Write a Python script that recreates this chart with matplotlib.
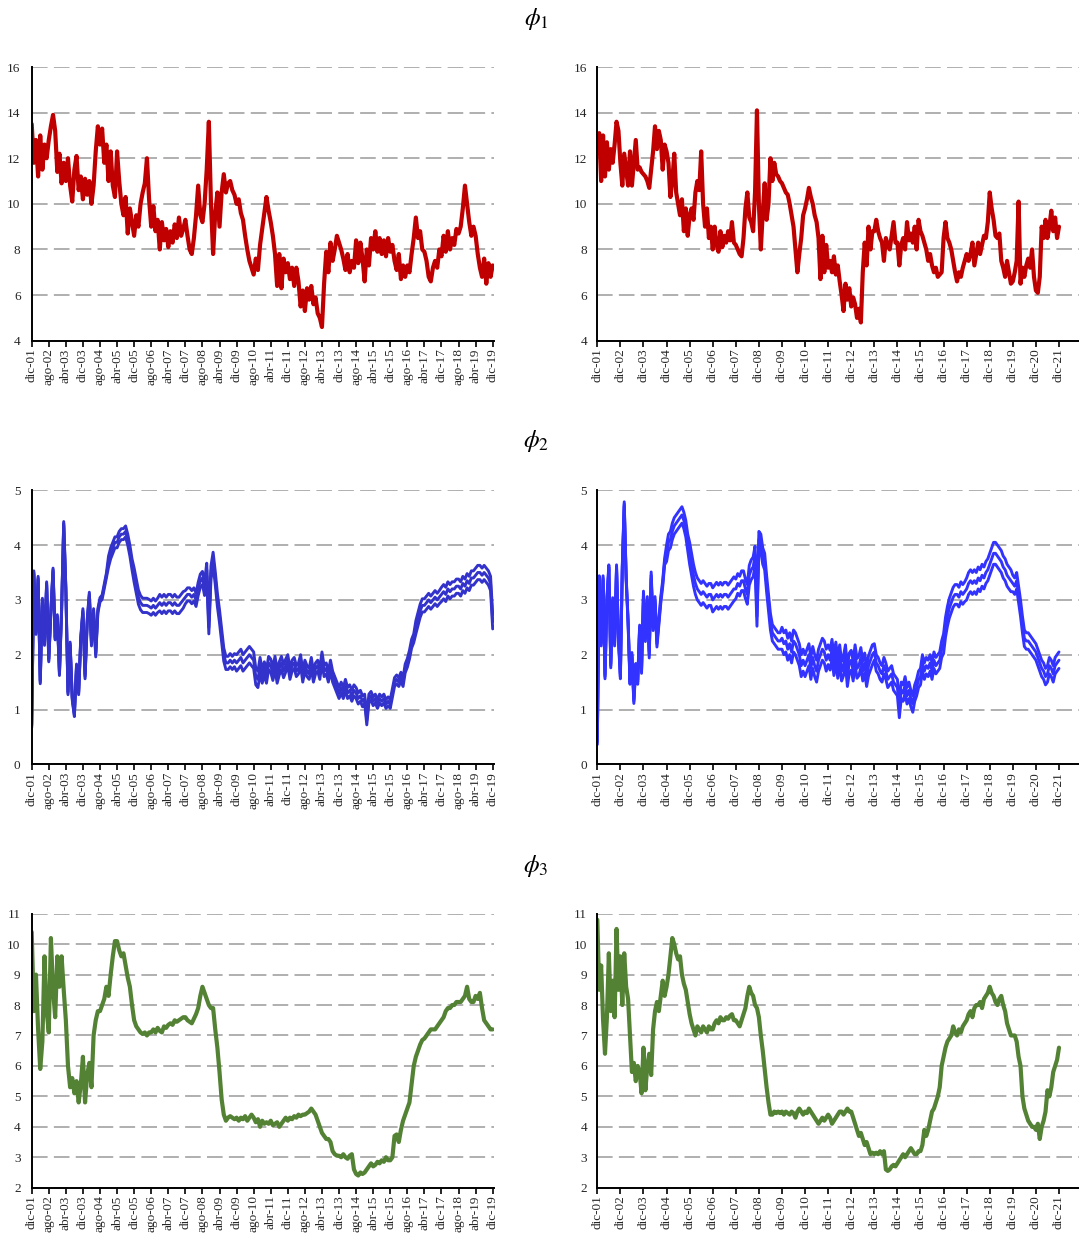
import numpy as np
import matplotlib
matplotlib.use("Agg")
import matplotlib.pyplot as plt

plt.rcParams["font.family"] = ["Liberation Serif", "DejaVu Serif"]
plt.rcParams["mathtext.fontset"] = "stix"

# ---------------------------------------------------------------------------
# Monthly readings, month 0 = dic-01
# ---------------------------------------------------------------------------
phi1_short = [
    13.5, 11.8, 12.8, 11.2, 13.0, 11.5, 12.6, 12.0,
    12.8, 13.4, 13.9, 13.2, 11.4, 12.2, 10.9, 11.8,
    11.0, 12.0, 10.8, 10.1, 11.5, 12.1, 10.6, 11.2,
    10.2, 11.1, 10.4, 11.0, 10.0, 10.8, 12.3, 13.4,
    12.6, 13.3, 11.8, 12.6, 11.0, 12.3, 10.8, 10.3,
    12.3, 11.0, 10.0, 9.5, 10.3, 8.7, 9.8, 9.2,
    8.6, 9.5, 9.0, 10.0, 10.5, 10.9, 12.0, 10.2,
    9.0, 9.9, 8.8, 9.3, 8.0, 9.2, 8.4, 8.9,
    8.1, 8.8, 8.3, 9.1, 8.5, 9.4, 8.6, 8.9,
    9.3, 8.6, 8.0, 7.8, 8.5, 9.5, 10.8, 9.5,
    9.2, 10.0, 11.5, 13.6, 10.0, 7.8, 9.6, 10.5,
    9.0, 10.5, 11.3, 10.5, 10.9, 11.0, 10.6, 10.4,
    10.0, 10.2, 9.6, 9.3, 8.6, 8.0, 7.5, 7.2,
    6.9, 7.6, 7.1, 8.2, 8.9, 9.6, 10.3, 9.7,
    9.2, 8.6, 7.8, 6.4, 7.8, 6.3, 7.6, 7.0,
    7.4, 6.7, 7.2, 6.4, 7.2, 6.6, 5.5, 6.2,
    5.3, 6.3, 5.8, 6.4, 5.6, 5.9, 5.2, 5.0,
    4.6, 6.5, 7.9, 7.0, 8.3, 7.5, 8.0, 8.6,
    8.3, 8.0, 7.6, 7.1, 7.8, 7.0, 7.5, 7.2,
    8.4, 7.4, 8.3, 7.6, 6.6, 8.0, 7.3, 8.5,
    8.0, 8.8, 7.9, 8.5, 7.8, 8.4, 7.7, 8.5,
    7.9, 8.2, 7.5, 7.1, 7.8, 6.7, 7.3, 6.8,
    7.3, 7.0, 7.8, 8.5, 9.4, 8.5, 8.8, 8.0,
    7.9, 7.5, 6.8, 6.6, 7.2, 7.5, 7.2, 8.0,
    7.7, 8.6, 7.9, 8.8, 8.0, 8.5, 8.2, 8.9,
    8.7, 9.0, 9.8, 10.8, 10.0, 9.2, 8.6, 9.0,
    8.6, 7.8, 7.2, 6.8, 7.6, 6.5, 7.4, 6.8,
    7.3,
]

phi1_long = [
    12.5, 13.1, 11.0, 13.0, 11.2, 12.7, 11.5, 12.4, 11.8, 12.6, 13.6, 13.2,
    11.8, 10.8, 12.2, 11.5, 10.8, 12.3, 10.8, 11.8, 12.8, 11.5, 11.6, 11.4,
    11.3, 11.2, 11.0, 10.7, 11.5, 12.3, 13.4, 12.4, 13.2, 12.8, 11.5, 12.6,
    12.3, 11.8, 10.3, 11.0, 12.2, 10.5, 10.0, 9.5, 10.2, 8.8, 9.8, 8.6,
    9.5, 9.8, 9.3, 10.5, 11.0, 10.6, 12.3, 10.0, 9.0, 9.8, 8.5, 9.0,
    8.0, 9.0, 8.2, 7.9, 8.8, 8.1, 8.6, 8.3, 8.8, 8.4, 9.2, 8.3,
    8.2, 8.0, 7.8, 7.7, 8.5, 9.8, 10.5, 9.4, 9.2, 8.8, 10.5, 14.1,
    10.0, 8.0, 9.6, 10.9, 9.3, 10.0, 12.0, 11.0, 11.8, 11.3, 11.2, 11.0,
    10.9, 10.7, 10.5, 10.4, 10.0, 9.5, 9.0, 8.0, 7.0, 7.8, 8.5, 9.5,
    9.8, 10.2, 10.7, 10.3, 10.0, 9.5, 9.2, 8.5, 6.7, 8.6, 7.0, 8.2,
    7.2, 7.5, 7.0, 7.7, 6.9, 7.3, 6.6, 6.0, 5.3, 6.5, 5.8, 6.3,
    5.5, 5.9, 5.6, 5.0, 5.4, 4.8, 7.0, 8.3, 7.3, 9.0, 8.0, 8.8,
    8.8, 9.3, 8.8, 8.5, 8.3, 7.5, 8.5, 8.2, 8.0, 8.6, 9.2, 8.3,
    8.3, 7.3, 8.2, 8.5, 8.0, 9.2, 8.4, 8.7, 8.3, 9.0, 8.0, 9.3,
    8.8, 8.6, 8.3, 8.0, 7.5, 7.8, 7.3, 7.0, 7.2, 6.8, 6.9, 7.0,
    8.5, 9.2, 8.5, 8.3, 8.0, 7.5, 7.0, 6.6, 7.0, 6.8, 7.2, 7.5,
    7.8, 7.5, 7.8, 8.3, 7.3, 7.8, 8.3, 7.8, 8.2, 8.6, 8.5, 9.2,
    10.5, 9.8, 9.3, 8.6, 8.5, 8.7, 7.5, 7.2, 6.8, 7.5, 7.0, 6.5,
    6.6, 7.0, 7.5, 10.1, 6.5, 7.2, 6.8, 7.3, 7.6, 7.2, 8.0, 6.8,
    6.2, 6.1, 6.8, 9.0, 8.5, 9.3, 8.5, 9.0, 9.7, 8.8, 9.4, 8.5,
    9.0,
]

phi2_short = [
    0.7, 3.5, 2.4, 3.4, 1.5, 3.0, 2.2, 3.3,
    1.9, 2.8, 3.55, 2.3, 2.7, 1.65, 2.8, 4.4,
    3.2, 1.3, 2.2, 1.2, 0.9, 1.8, 1.3, 2.3,
    2.8, 1.6, 2.6, 3.1, 2.2, 2.8, 2.0, 2.8,
    3.0, 3.05, 3.25, 3.45, 3.7, 3.85, 3.95, 4.05,
    4.05, 4.15, 4.2, 4.2, 4.25, 4.1, 3.9, 3.65,
    3.45, 3.25, 3.05, 2.95, 2.9, 2.9, 2.9, 2.88,
    2.85, 2.9, 2.85, 2.9, 2.95, 2.9, 2.95, 2.9,
    2.95, 2.95, 2.9, 2.95, 2.9, 2.9, 2.95, 3.0,
    3.05, 3.1, 3.1, 3.05, 3.1, 3.0, 3.2, 3.35,
    3.4, 3.2, 3.55, 2.5, 3.5, 3.75, 3.4, 3.0,
    2.7, 2.35, 2.0, 1.85, 1.85, 1.9, 1.85, 1.9,
    1.85, 1.9, 1.95, 1.85, 1.9, 1.95, 2.0, 1.95,
    1.9, 1.6, 1.55, 1.8, 1.6, 1.75, 1.6, 1.85,
    1.8, 1.65, 1.85, 1.6, 1.75, 1.85, 1.7, 1.8,
    1.9, 1.65, 1.8, 1.85, 1.7, 1.75, 1.9, 1.6,
    1.8, 1.7, 1.65, 1.85, 1.6, 1.75, 1.8, 1.65,
    1.95, 1.7, 1.75, 1.6, 1.8, 1.6, 1.5, 1.4,
    1.3, 1.4, 1.3, 1.45, 1.3, 1.35, 1.25, 1.35,
    1.3, 1.2, 1.25, 1.15, 1.2, 0.8, 1.2, 1.25,
    1.15, 1.2, 1.1, 1.2, 1.15, 1.2, 1.1, 1.15,
    1.1, 1.3, 1.5, 1.55, 1.5, 1.6, 1.5, 1.75,
    1.85, 2.0, 2.2, 2.3, 2.5, 2.65, 2.8, 2.9,
    2.9, 2.95, 3.0, 2.95, 3.0, 3.05, 3.0, 3.05,
    3.1, 3.15, 3.1, 3.2, 3.15, 3.2, 3.2, 3.25,
    3.25, 3.2, 3.3, 3.25, 3.35, 3.3, 3.4, 3.4,
    3.45, 3.5, 3.5, 3.45, 3.5, 3.45, 3.4, 3.3,
    2.6,
]
# half-distance between the three parallel phi2 curves, one value per year
phi2_short_gap = [0.03, 0.03, 0.04, 0.10, 0.13, 0.15, 0.12, 0.12, 0.15,
                  0.12, 0.10, 0.10, 0.10, 0.08, 0.08, 0.12, 0.13, 0.13, 0.13]

phi2_long = [
    0.4, 3.4, 2.2, 3.4, 1.6, 3.0, 3.6, 1.8, 3.0, 2.2, 3.6, 2.3,
    1.6, 3.6, 4.75, 3.4, 2.6, 1.5, 2.0, 1.15, 1.8, 1.5, 2.5, 1.7,
    3.1, 2.3, 3.0, 2.0, 3.45, 2.5, 3.0, 2.2, 2.6, 3.0, 3.3, 3.7,
    3.85, 4.05, 4.1, 4.25, 4.35, 4.4, 4.45, 4.5, 4.55, 4.45, 4.3, 4.05,
    3.85, 3.65, 3.45, 3.3, 3.2, 3.15, 3.1, 3.15, 3.1, 3.05, 3.1, 3.1,
    3.0, 3.05, 3.1, 3.05, 3.1, 3.05, 3.1, 3.1, 3.05, 3.1, 3.15, 3.2,
    3.2, 3.3, 3.25, 3.35, 3.35, 3.2, 3.1, 3.45, 3.55, 3.6, 3.8, 2.7,
    4.1, 4.05, 3.8, 3.7, 3.3, 2.95, 2.6, 2.4, 2.35, 2.3, 2.25, 2.25,
    2.3, 2.2, 2.25, 2.1, 2.2, 2.05, 2.25, 2.2, 2.1, 2.0, 1.8, 1.9,
    1.8, 1.9, 2.0, 1.75, 1.95, 1.8, 1.7, 1.9, 2.0, 2.1, 2.05, 1.9,
    2.0, 1.9, 2.1, 1.8, 2.05, 1.75, 2.0, 1.7, 1.8, 2.0, 1.6, 1.85,
    1.9, 1.7, 2.0, 1.75, 1.8, 1.95, 1.7, 1.85, 1.6, 1.8, 1.9, 2.0,
    2.05, 1.85, 1.8, 1.7, 1.65, 1.8, 1.7, 1.55, 1.6, 1.65, 1.5, 1.45,
    1.4, 1.0, 1.35, 1.3, 1.45, 1.25, 1.35, 1.2, 1.1, 1.3, 1.4, 1.55,
    1.6, 1.85, 1.7, 1.8, 1.75, 1.85, 1.7, 1.9, 1.8, 1.85, 1.9, 2.1,
    2.2, 2.5, 2.7, 2.85, 2.95, 3.05, 3.1, 3.1, 3.05, 3.15, 3.1, 3.15,
    3.2, 3.3, 3.35, 3.3, 3.35, 3.3, 3.4, 3.35, 3.45, 3.4, 3.5, 3.55,
    3.65, 3.75, 3.85, 3.85, 3.8, 3.75, 3.7, 3.6, 3.55, 3.45, 3.4, 3.35,
    3.3, 3.25, 3.35, 3.1, 2.85, 2.55, 2.3, 2.25, 2.25, 2.2, 2.15, 2.1,
    2.05, 1.95, 1.85, 1.75, 1.7, 1.6, 1.65, 1.8, 1.75, 1.65, 1.8, 1.85,
    1.9,
]
phi2_long_gap = [0.04, 0.04, 0.06, 0.15, 0.20, 0.22, 0.18, 0.15, 0.20, 0.20,
                 0.18, 0.18, 0.15, 0.15, 0.15, 0.18, 0.20, 0.20, 0.15, 0.15, 0.15]

phi3_short = [
    10.4, 7.8, 9.0, 7.2, 5.9, 6.8, 9.6, 7.8,
    7.1, 10.2, 8.5, 7.6, 9.6, 8.6, 9.6, 8.5,
    7.5, 6.0, 5.3, 5.6, 5.1, 5.5, 4.8, 5.4,
    6.3, 4.8, 5.7, 6.1, 5.3, 7.0, 7.5, 7.8,
    7.8, 8.0, 8.2, 8.6, 8.3, 9.0, 9.6, 10.1,
    10.1, 9.8, 9.6, 9.7, 9.3, 8.9, 8.6, 8.0,
    7.5, 7.3, 7.2, 7.1, 7.05, 7.1, 7.0, 7.1,
    7.1, 7.2, 7.1, 7.25, 7.15, 7.1, 7.3, 7.25,
    7.35, 7.4, 7.35, 7.5, 7.45, 7.5, 7.55, 7.6,
    7.6, 7.5, 7.45, 7.4, 7.55, 7.7, 7.9, 8.3,
    8.6, 8.4, 8.2, 8.0, 7.9, 7.9, 7.2, 6.6,
    5.8, 4.9, 4.4, 4.2, 4.3, 4.35, 4.3, 4.25,
    4.3, 4.2, 4.3, 4.25, 4.35, 4.2, 4.3, 4.4,
    4.3, 4.15, 4.25, 4.0, 4.2, 4.1, 4.15, 4.1,
    4.2, 4.05, 4.1, 4.15, 4.0, 4.1, 4.2, 4.3,
    4.2, 4.3, 4.25, 4.35, 4.3, 4.4, 4.35, 4.4,
    4.4, 4.45, 4.5, 4.6, 4.5, 4.4, 4.2, 4.0,
    3.8, 3.7, 3.6, 3.6, 3.5, 3.2, 3.1, 3.05,
    3.05, 3.0, 3.1, 3.0, 2.95, 3.05, 3.1, 2.6,
    2.45, 2.4, 2.5, 2.45, 2.5, 2.6, 2.7, 2.8,
    2.7, 2.75, 2.85, 2.8, 2.9, 2.85, 3.0, 2.9,
    2.9, 3.0, 3.7, 3.75, 3.5, 3.9, 4.2, 4.4,
    4.6, 4.8, 5.4, 6.0, 6.3, 6.5, 6.7, 6.85,
    6.9, 7.0, 7.1, 7.2, 7.2, 7.2, 7.3, 7.4,
    7.5, 7.6, 7.8, 7.9, 7.9, 8.0, 8.0, 8.1,
    8.1, 8.1, 8.2, 8.3, 8.6, 8.2, 8.1, 8.1,
    8.3, 8.2, 8.4, 7.9, 7.5, 7.4, 7.3, 7.2,
    7.2,
]

phi3_long = [
    10.8, 8.5, 9.3, 7.5, 6.4, 7.6, 9.7, 7.8, 8.8, 7.6, 10.5, 8.5,
    9.6, 8.0, 9.7, 8.6, 8.2, 7.0, 5.8, 6.1, 5.5, 6.0, 5.8, 5.1,
    6.6, 5.2, 6.0, 6.4, 5.7, 7.2, 7.8, 8.1, 7.8, 8.3, 8.8, 8.3,
    8.6, 9.0, 9.6, 10.2, 10.0, 9.7, 9.5, 9.6, 9.0, 8.7, 8.5, 8.1,
    7.7, 7.4, 7.2, 7.0, 7.3, 7.2, 7.1, 7.3, 7.2, 7.1, 7.3, 7.2,
    7.2, 7.4, 7.5, 7.4, 7.6, 7.5, 7.5, 7.6, 7.55, 7.65, 7.7, 7.5,
    7.5, 7.4, 7.3, 7.5, 7.7, 7.9, 8.3, 8.6, 8.4, 8.3, 8.0, 7.9,
    7.6, 7.0, 6.5, 5.9, 5.3, 4.8, 4.4, 4.4, 4.5, 4.45, 4.5, 4.45,
    4.5, 4.4, 4.5, 4.45, 4.4, 4.5, 4.45, 4.3, 4.5, 4.6, 4.5, 4.4,
    4.5, 4.45, 4.6, 4.5, 4.4, 4.3, 4.2, 4.1, 4.2, 4.3, 4.2, 4.3,
    4.4, 4.3, 4.1, 4.2, 4.3, 4.4, 4.5, 4.5, 4.4, 4.5, 4.6, 4.5,
    4.5, 4.3, 4.1, 3.9, 3.7, 3.8, 3.6, 3.4, 3.5, 3.3, 3.1, 3.15,
    3.1, 3.15, 3.1, 3.2, 3.1, 3.2, 2.6, 2.55, 2.6, 2.7, 2.75, 2.7,
    2.8, 2.9, 3.0, 3.1, 3.0, 3.1, 3.2, 3.3, 3.2, 3.1, 3.1, 3.2,
    3.2, 3.4, 3.9, 3.7, 3.9, 4.2, 4.5, 4.6, 4.8, 5.0, 5.3, 6.0,
    6.3, 6.6, 6.8, 6.9, 7.0, 7.3, 7.1, 7.0, 7.2, 7.1, 7.3, 7.4,
    7.5, 7.7, 7.8, 7.6, 7.9, 8.0, 8.0, 8.1, 7.9, 8.2, 8.3, 8.4,
    8.6, 8.4, 8.3, 8.1, 8.0, 8.2, 8.3, 8.0, 7.8, 7.4, 7.2, 7.0,
    7.0, 7.0, 6.8, 6.3, 6.0, 5.0, 4.6, 4.4, 4.2, 4.1, 4.0, 4.0,
    3.9, 4.1, 3.6, 4.0, 4.2, 4.5, 5.2, 5.0, 5.3, 5.8, 6.0, 6.2,
    6.6,
]

# x-axis labels
ticks_short = ["dic-01", "ago-02", "abr-03", "dic-03", "ago-04", "abr-05", "dic-05",
               "ago-06", "abr-07", "dic-07", "ago-08", "abr-09", "dic-09", "ago-10",
               "abr-11", "dic-11", "ago-12", "abr-13", "dic-13", "ago-14", "abr-15",
               "dic-15", "ago-16", "abr-17", "dic-17", "ago-18", "abr-19", "dic-19"]
ticks_long = ["dic-01", "dic-02", "dic-03", "dic-04", "dic-05", "dic-06", "dic-07",
              "dic-08", "dic-09", "dic-10", "dic-11", "dic-12", "dic-13", "dic-14",
              "dic-15", "dic-16", "dic-17", "dic-18", "dic-19", "dic-20", "dic-21"]

RED = "#C00000"
BLUE_L = "#3333CC"
BLUE_R = "#3333FF"
GREEN = "#548235"
GRID = "#A6A6A6"
TXT = "#262626"

fig = plt.figure(figsize=(10.79, 12.35), dpi=100)

W, H = 1079.0, 1235.0
left_x0, left_x1 = 31.7, 494.3
right_x0, right_x1 = 597.3, 1079.0
rows = [(67.0, 340.7), (490.3, 764.3), (913.7, 1187.7)]


def make_axes(col, row):
    top, bot = rows[row]
    x0, x1 = (left_x0, left_x1) if col == 0 else (right_x0, right_x1)
    return fig.add_axes([x0 / W, 1 - bot / H, (x1 - x0) / W, (bot - top) / H])


def style(ax, ylo, yhi, step, xmax, tick_step, labels, ypad):
    ax.set_ylim(ylo, yhi)
    ax.set_xlim(0, xmax)
    ax.set_yticks(np.arange(ylo, yhi + 0.01, step))
    ax.set_xticks(np.arange(len(labels)) * tick_step)
    ax.set_xticklabels(labels, rotation=90, fontsize=9.5, color=TXT)
    for lab in ax.get_yticklabels():
        lab.set_fontsize(9.5)
        lab.set_color(TXT)
    ax.tick_params(axis="y", length=0, pad=ypad)
    ax.tick_params(axis="x", direction="out", length=4, width=1.2, pad=1.5, color="black")
    for s in ("top", "right"):
        ax.spines[s].set_visible(False)
    for s in ("left", "bottom"):
        ax.spines[s].set_linewidth(1.4)
        ax.spines[s].set_color("black")
        ax.spines[s].set_zorder(5)
    ax.grid(axis="y", color=GRID, linewidth=1.25, linestyle=(0, (9.0, 3.6)))
    ax.grid(axis="x", visible=False)
    ax.set_axisbelow(True)
    ax.patch.set_alpha(0)


def draw_single(ax, values, color, lw=3.0):
    m = np.arange(len(values))
    ax.plot(m, values, color=color, lw=lw, solid_joinstyle="round",
            solid_capstyle="round", zorder=3)


def draw_triple(ax, values, gaps, color, lw=2.1):
    v = np.asarray(values)
    m = np.arange(len(v))
    g = np.asarray(gaps)[np.minimum(m // 12, len(gaps) - 1)]
    for curve in (v + g, v, v - g):
        ax.plot(m, curve, color=color, lw=lw, solid_joinstyle="round",
                solid_capstyle="round", zorder=3)


# row 1: phi1
ax = make_axes(0, 0)
style(ax, 4, 16, 2, 216.75, 8, ticks_short, 8)
draw_single(ax, phi1_short, RED)
ax = make_axes(1, 0)
style(ax, 4, 16, 2, 250.4, 12, ticks_long, 7.5)
draw_single(ax, phi1_long, RED)

# row 2: phi2
ax = make_axes(0, 1)
style(ax, 0, 5, 1, 216.75, 8, ticks_short, 8)
draw_triple(ax, phi2_short, phi2_short_gap, BLUE_L)
ax = make_axes(1, 1)
style(ax, 0, 5, 1, 250.4, 12, ticks_long, 7.5)
draw_triple(ax, phi2_long, phi2_long_gap, BLUE_R)

# row 3: phi3
ax = make_axes(0, 2)
style(ax, 2, 11, 1, 216.75, 8, ticks_short, 8)
draw_single(ax, phi3_short, GREEN)
ax = make_axes(1, 2)
style(ax, 2, 11, 1, 250.4, 12, ticks_long, 7.5)
draw_single(ax, phi3_long, GREEN)

# row headings
for label, ypx in ((r"$\phi_1$", 19), (r"$\phi_2$", 441), (r"$\phi_3$", 866)):
    fig.text(536 / W, 1 - ypx / H, label, fontsize=18, ha="center", va="center",
             color="black")

fig.savefig("out.png", dpi=100)
